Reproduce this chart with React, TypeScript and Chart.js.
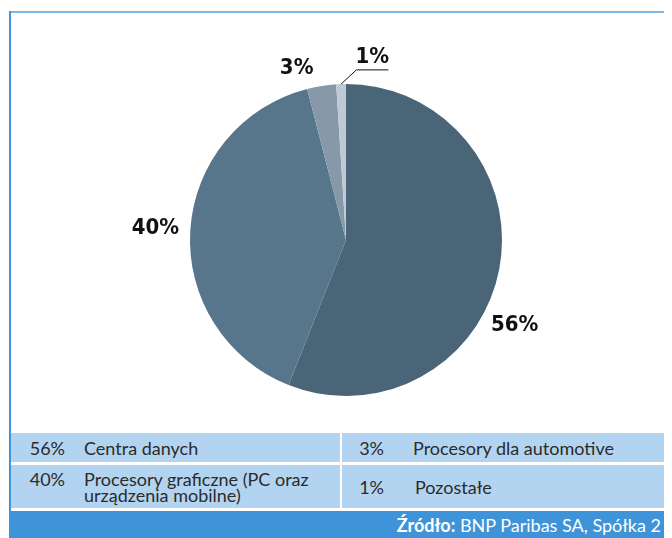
import React, { useEffect, useRef } from "react";
import { Chart, registerables } from "chart.js";

Chart.register(...registerables);

const categories = [
  "Centra danych",
  "Procesory graficzne (PC oraz urządzenia mobilne)",
  "Procesory dla automotive",
  "Pozostałe",
];
const values = [56, 40, 3, 1];
const valueLabels = values.map((v) => `${v}%`);
const sliceColors = ["#4a6478", "#57768c", "#8799a8", "#bdc9d4"];
const sourceBold = "Źródło:";
const sourceText = " BNP Paribas SA, Spółka 2";

// label placement tweaks (Excel "best fit" imitation): angle shift (deg), gap beyond radius, leader line
const labelShift = [16, 0, -7, 10];
const labelGap = [33, 35, 23, 29];
const labelLeader = [false, false, false, true];

const outLabels = {
  id: "outLabels",
  afterDatasetsDraw(chart: any) {
    const ctx = chart.ctx;
    const meta = chart.getDatasetMeta(0);
    ctx.save();
    ctx.font = "bold 22px 'DejaVu Sans Condensed', 'DejaVu Sans', sans-serif";
    ctx.fillStyle = "#111";
    ctx.textAlign = "center";
    ctx.textBaseline = "middle";
    meta.data.forEach((arc: any, i: number) => {
      const p = arc.getProps(["x", "y", "startAngle", "endAngle", "outerRadius"], true);
      const mid = (p.startAngle + p.endAngle) / 2;
      const a = mid + (labelShift[i] * Math.PI) / 180;
      const d = p.outerRadius + labelGap[i];
      const lx = p.x + Math.cos(a) * d;
      const ly = p.y + Math.sin(a) * d;
      ctx.fillText(valueLabels[i], lx, ly);
      if (labelLeader[i]) {
        ctx.beginPath();
        ctx.strokeStyle = "#111";
        ctx.lineWidth = 1;
        ctx.moveTo(p.x + Math.cos(mid) * p.outerRadius, p.y + Math.sin(mid) * p.outerRadius);
        ctx.lineTo(lx - 16, ly + 13);
        ctx.lineTo(lx + 16, ly + 13);
        ctx.stroke();
      }
    });
    ctx.restore();
  },
};

const tableFont = "Lato, 'Open Sans', sans-serif";

function Cell(props: { left: number; top: number; width: number; height: number; value: string; label: string; valueRight: number; labelLeft: number; center?: boolean }) {
  const { left, top, width, height, value, label, valueRight, labelLeft, center } = props;
  return (
    <div
      style={{
        position: "absolute",
        left,
        top,
        width,
        height,
        background: "#b3d4f0",
        fontFamily: tableFont,
        fontSize: 18,
        color: "#2b2b2b",
        lineHeight: "16px",
      }}
    >
      <div
        style={{
          position: "absolute",
          right: width - valueRight,
          top: center ? 0 : 6,
          height: center ? height : undefined,
          display: "flex",
          alignItems: "center",
        }}
      >
        {value}
      </div>
      <div
        style={{
          position: "absolute",
          left: labelLeft,
          width: 252,
          top: center ? 0 : 6,
          height: center ? height : undefined,
          display: center ? "flex" : "block",
          alignItems: "center",
        }}
      >
        {label}
      </div>
    </div>
  );
}

export default function App() {
  const ref = useRef<HTMLCanvasElement>(null);
  useEffect(() => {
    if (!ref.current) return;
    const chart = new Chart(ref.current, {
      type: "pie",
      data: {
        labels: categories,
        datasets: [
          {
            data: values,
            backgroundColor: sliceColors,
            borderWidth: 0,
          },
        ],
      },
      options: {
        responsive: false,
        animation: false,
        devicePixelRatio: 1,
        layout: { padding: 44 },
        plugins: { legend: { display: false }, tooltip: { enabled: false } },
      },
      plugins: [outLabels],
    });
    return () => chart.destroy();
  }, []);

  // coordinates inside the container are page coords minus the 8px body margin
  return (
    <div style={{ position: "relative", width: 664, height: 530 }}>
      <div style={{ position: "absolute", left: 1, top: 3, width: 663, height: 2, background: "#7db6e4" }} />
      <div style={{ position: "absolute", left: 1, top: 3, width: 2, height: 500, background: "#4294da" }} />
      <canvas ref={ref} width={500} height={400} style={{ position: "absolute", left: 88, top: 32 }} />
      <Cell left={3} top={425} width={329} height={29} value={valueLabels[0]} label={categories[0]} valueRight={54} labelLeft={73} center />
      <Cell left={3} top={457} width={329} height={43} value={valueLabels[1]} label={categories[1]} valueRight={54} labelLeft={73} />
      <Cell left={334} top={425} width={330} height={29} value={valueLabels[2]} label={categories[2]} valueRight={42} labelLeft={71} center />
      <Cell left={334} top={457} width={330} height={43} value={valueLabels[3]} label={categories[3]} valueRight={42} labelLeft={73} center />
      <div
        style={{
          position: "absolute",
          left: 1,
          top: 503,
          width: 663,
          height: 27,
          background: "#3f93d8",
          color: "#fff",
          fontFamily: tableFont,
          fontSize: 18,
          display: "flex",
          alignItems: "center",
          justifyContent: "flex-end",
          paddingRight: 11,
          boxSizing: "border-box",
          whiteSpace: "pre",
        }}
      >
        <b>{sourceBold}</b>
        <span>{sourceText}</span>
      </div>
    </div>
  );
}
